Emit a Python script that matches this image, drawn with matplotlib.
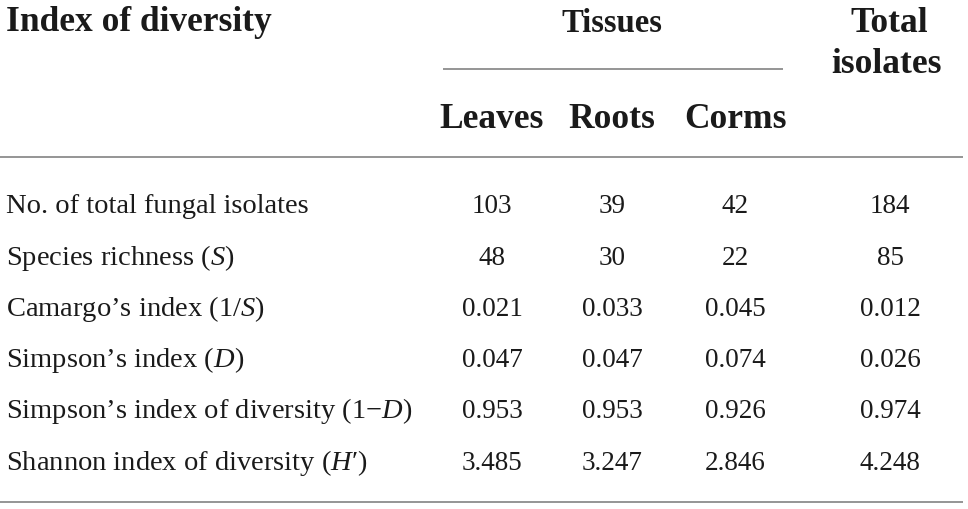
import matplotlib
matplotlib.use("Agg")
import matplotlib.pyplot as plt

plt.rcParams['mathtext.fontset'] = 'custom'
plt.rcParams['mathtext.rm'] = 'Liberation Serif'
plt.rcParams['mathtext.it'] = 'Liberation Serif:italic'
plt.rcParams['font.family'] = ['Liberation Serif', 'DejaVu Serif']

header_left = "Index of diversity"
group_header = "Tissues"
total_header = ["Total", "isolates"]
tissues = ["Leaves", "Roots", "Corms"]

row_labels = [
    "No. of total fungal isolates",
    "Species richness ($S$)",
    "Camargo\u2019s index (1/$S$)",
    "Simpson\u2019s index ($D$)",
    "Simpson\u2019s index of diversity (1\u2212$D$)",
    "Shannon index of diversity ($H$\u2032)",
]
leaves = ["103", "48", "0.021", "0.047", "0.953", "3.485"]
roots = ["39", "30", "0.033", "0.047", "0.953", "3.247"]
corms = ["42", "22", "0.045", "0.074", "0.926", "2.846"]
total = ["184", "85", "0.012", "0.026", "0.974", "4.248"]

W, H = 968, 510
fig = plt.figure(figsize=(W / 100, H / 100), dpi=100)
fig.patch.set_facecolor("white")
ax = fig.add_axes([0, 0, 1, 1])
ax.set_xlim(0, W)
ax.set_ylim(H, 0)
ax.axis("off")

col_x = [492, 612, 735, 890]
row_base = [213, 265, 316, 367, 418, 470]
line_col = "#8c8c8c"
txt_col = "#1a1a1a"

hfs = 25.5
lfs = 20.5
nfs = 19.5
ax.text(6, 31, header_left, fontsize=hfs, fontweight="bold", ha="left", va="baseline", color=txt_col)
ax.text(612, 32, group_header, fontsize=23.5, fontweight="bold", ha="center", va="baseline", color=txt_col)
ax.text(889, 32, total_header[0], fontsize=hfs, fontweight="bold", ha="center", va="baseline", color=txt_col)
ax.text(887, 73, total_header[1], fontsize=hfs, fontweight="bold", ha="center", va="baseline", color=txt_col)
for x, t in zip([492, 612, 735], tissues):
    ax.text(x, 128, t, fontsize=hfs, fontweight="bold", ha="center", va="baseline", color=txt_col)

ax.plot([443, 783], [70, 70], color=line_col, lw=1.3, solid_capstyle="butt")
ax.plot([0, 963], [158, 158], color=line_col, lw=1.3, solid_capstyle="butt")
ax.plot([0, 963], [503, 503], color=line_col, lw=1.3, solid_capstyle="butt")

for i, y in enumerate(row_base):
    ax.text(6, y, row_labels[i], fontsize=lfs, ha="left", va="baseline", color=txt_col)
    for x, col in zip(col_x, [leaves, roots, corms, total]):
        ax.text(x, y, col[i], fontsize=nfs, ha="center", va="baseline", color=txt_col)

fig.savefig("out.png", dpi=100, facecolor="white")
